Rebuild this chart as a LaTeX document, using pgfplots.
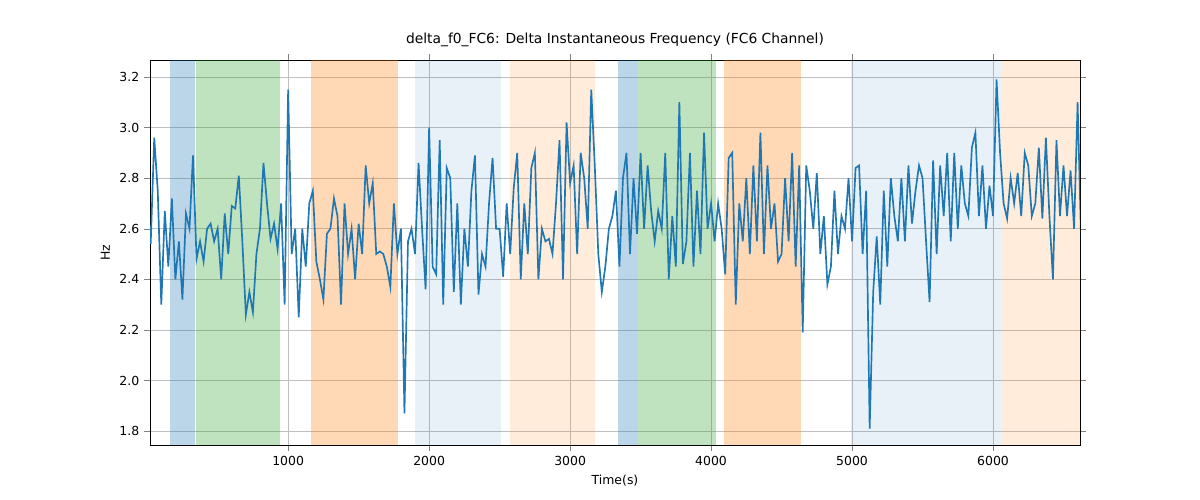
\documentclass[border=0pt]{standalone}
\usepackage{pgfplots}
\pgfplotsset{compat=1.18}
\usepackage{fontspec}
\setmainfont{DejaVu Sans}
\definecolor{tblue}{HTML}{1F77B4}
\definecolor{tgreen}{HTML}{2CA02C}
\definecolor{torange}{HTML}{FF7F0E}
\begin{document}
\begin{tikzpicture}
\path (0,0) rectangle (12in,5in);
\begin{axis}[at={(1.5in,0.55in)},anchor=south west,scale only axis,
width=9.3in,height=3.85in,xmin=20,xmax=6617,ymin=1.745,ymax=3.267,
xtick={1000,2000,3000,4000,5000,6000},ytick={1.8,2.0,2.2,2.4,2.6,2.8,3.0,3.2},
xticklabel style={/pgf/number format/.cd,1000 sep={}},
yticklabel style={/pgf/number format/.cd,fixed,fixed zerofill,precision=1},
/pgf/number format/assume math mode=true,
grid=major,grid style={gray!50},tick align=outside,
ticklabel style={font=\small},
title={delta\_f0\_FC6: Delta Instantaneous Frequency (FC6 Channel)},
xlabel={Time(s)},ylabel={Hz},label style={font=\small}]
\def\band#1#2#3#4{\fill[#3,opacity=#4] (axis cs:#1,1.745) rectangle (axis cs:#2,3.267);}
\band{163}{340}{tblue}{0.3}
\band{347}{943}{tgreen}{0.3}
\band{1163}{1780}{torange}{0.3}
\band{1900}{2510}{tblue}{0.1}
\band{2574}{3177}{torange}{0.15}
\band{3340}{3482}{tblue}{0.3}
\band{3482}{4035}{tgreen}{0.3}
\band{4092}{4638}{torange}{0.3}
\band{4993}{6057}{tblue}{0.1}
\band{6057}{6617}{torange}{0.15}
\addplot[tblue,line width=1.2pt,mark=none] table {
0 2.7
25 2.54
50 2.96
75 2.75
100 2.3
125 2.67
150 2.45
175 2.72
200 2.4
225 2.55
250 2.32
275 2.66
300 2.6
325 2.89
350 2.48
375 2.55
400 2.47
425 2.6
450 2.62
475 2.55
500 2.6
525 2.4
550 2.66
575 2.5
600 2.69
625 2.68
650 2.81
675 2.55
700 2.26
725 2.35
750 2.27
775 2.5
800 2.6
825 2.86
850 2.7
875 2.56
900 2.62
925 2.52
950 2.7
975 2.3
1000 3.15
1025 2.5
1050 2.6
1075 2.25
1100 2.6
1125 2.45
1150 2.7
1175 2.75
1200 2.47
1225 2.4
1250 2.32
1275 2.58
1300 2.6
1325 2.72
1350 2.65
1375 2.3
1400 2.7
1425 2.5
1450 2.6
1475 2.4
1500 2.62
1525 2.5
1550 2.85
1575 2.7
1600 2.78
1625 2.5
1650 2.51
1675 2.5
1700 2.45
1725 2.37
1750 2.7
1775 2.5
1800 2.6
1825 1.87
1850 2.55
1875 2.6
1900 2.5
1925 2.86
1950 2.6
1975 2.36
2000 3.0
2025 2.45
2050 2.42
2075 2.95
2100 2.3
2125 2.84
2150 2.8
2175 2.35
2200 2.7
2225 2.3
2250 2.6
2275 2.45
2300 2.75
2325 2.89
2350 2.34
2375 2.5
2400 2.45
2425 2.7
2450 2.88
2475 2.6
2500 2.6
2525 2.41
2550 2.7
2575 2.5
2600 2.76
2625 2.9
2650 2.4
2675 2.7
2700 2.5
2725 2.84
2750 2.9
2775 2.4
2800 2.6
2825 2.55
2850 2.56
2875 2.5
2900 2.7
2925 2.95
2950 2.4
2975 3.02
3000 2.78
3025 2.85
3050 2.5
3075 2.9
3100 2.8
3125 2.6
3150 3.15
3175 2.85
3200 2.5
3225 2.35
3250 2.45
3275 2.6
3300 2.65
3325 2.75
3350 2.45
3375 2.8
3400 2.9
3425 2.5
3450 2.8
3475 2.58
3500 2.9
3525 2.6
3550 2.85
3575 2.67
3600 2.55
3625 2.67
3650 2.6
3675 2.9
3700 2.4
3725 2.65
3750 2.45
3775 3.1
3800 2.46
3825 2.55
3850 2.9
3875 2.45
3900 2.75
3925 2.5
3950 2.98
3975 2.6
4000 2.7
4025 2.55
4050 2.7
4075 2.6
4100 2.42
4125 2.88
4150 2.9
4175 2.3
4200 2.7
4225 2.55
4250 2.8
4275 2.5
4300 2.85
4325 2.55
4350 2.98
4375 2.5
4400 2.85
4425 2.6
4450 2.7
4475 2.47
4500 2.5
4525 2.8
4550 2.55
4575 2.9
4600 2.45
4625 2.85
4650 2.19
4675 2.85
4700 2.75
4725 2.6
4750 2.82
4775 2.5
4800 2.65
4825 2.38
4850 2.45
4875 2.75
4900 2.5
4925 2.65
4950 2.6
4975 2.8
5000 2.55
5025 2.84
5050 2.85
5075 2.5
5100 2.75
5125 1.81
5150 2.35
5175 2.57
5200 2.3
5225 2.75
5250 2.45
5275 2.8
5300 2.65
5325 2.55
5350 2.8
5375 2.55
5400 2.85
5425 2.62
5450 2.75
5475 2.85
5500 2.8
5525 2.55
5550 2.31
5575 2.87
5600 2.5
5625 2.85
5650 2.65
5675 2.9
5700 2.55
5725 2.9
5750 2.6
5775 2.85
5800 2.7
5825 2.65
5850 2.92
5875 2.98
5900 2.65
5925 2.85
5950 2.6
5975 2.77
6000 2.65
6025 3.19
6050 2.9
6075 2.7
6100 2.64
6125 2.8
6150 2.7
6175 2.82
6200 2.65
6225 2.9
6250 2.85
6275 2.65
6300 2.7
6325 2.92
6350 2.64
6375 2.96
6400 2.65
6425 2.4
6450 2.95
6475 2.65
6500 2.85
6525 2.65
6550 2.83
6575 2.6
6600 3.1
6625 2.55
};
\end{axis}
\end{tikzpicture}
\end{document}
